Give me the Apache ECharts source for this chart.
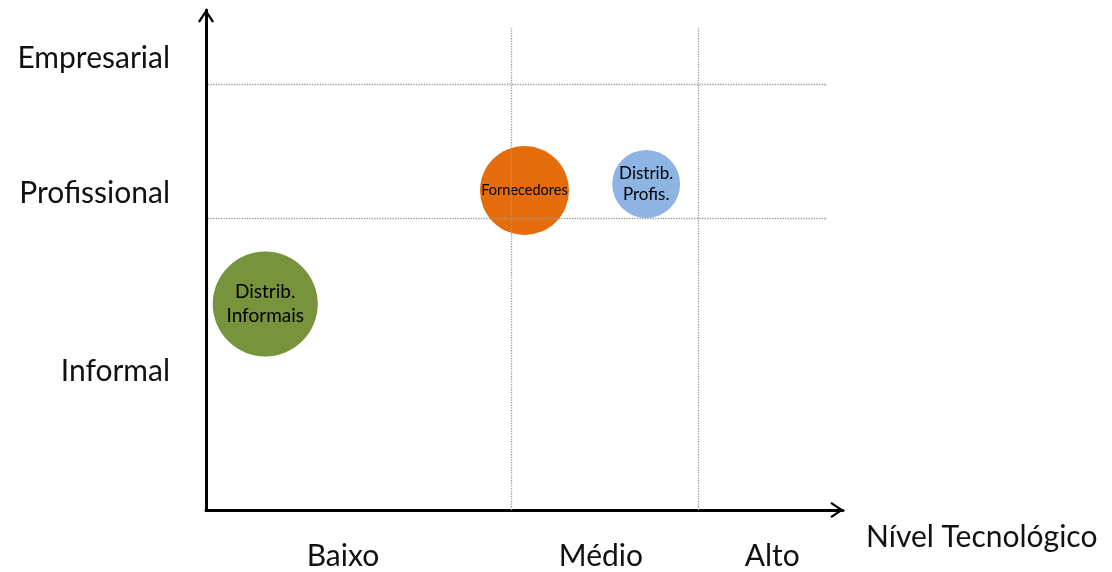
<!DOCTYPE html>
<html>
<head>
<meta charset="utf-8">
<script src="https://cdn.jsdelivr.net/npm/echarts@6/dist/echarts.min.js"></script>
<style>html,body{margin:0;padding:0;background:#fff}#c{width:1112px;height:572px}</style>
</head>
<body>
<div id="c"></div>
<script>
// ---- data ----
var bubbleNames = ['Fornecedores', 'Distrib.\nProfis.', 'Distrib.\nInformais'];
var bubbleX = [50.0, 69.1, 9.3];
var bubbleY = [63.9, 65.2, 41.2];
var bubbleSize = [89, 68, 105];
var bubbleColors = ['#E46C0A', '#8EB4E3', '#77933C'];
var bubbleFont = [14.5, 17, 19];

var xLevels = ['Baixo', 'Médio', 'Alto'];
var xLevelPos = [21.5, 62.0, 88.9];
var yLevels = ['Informal', 'Profissional', 'Empresarial'];
var yLevelPos = [27.8, 63.4, 90.4];

var xDividers = [47.9, 77.2];
var yDividers = [58.4, 85.2];
var xAxisName = 'Nível Tecnológico';

var FONT = 'Lato, "Open Sans", sans-serif';
var chevron = 'path://M8,0 L16,12 L14.2,13.3 L8,4 L1.8,13.3 L0,12 Z';

var lines = [];
xDividers.forEach(function (x) { lines.push([{ coord: [x, 0] }, { coord: [x, 96.4] }]); });
yDividers.forEach(function (y) { lines.push([{ coord: [0.3, y] }, { coord: [97.5, y] }]); });

var points = bubbleNames.map(function (n, i) {
  return {
    name: n,
    value: [bubbleX[i], bubbleY[i]],
    symbolSize: bubbleSize[i],
    itemStyle: { color: bubbleColors[i], opacity: 1 },
    label: { fontSize: bubbleFont[i], lineHeight: Math.round(bubbleFont[i] * 1.25) }
  };
});

var chart = echarts.init(document.getElementById('c'), null, { renderer: 'canvas' });
chart.setOption({
  animation: false,
  backgroundColor: '#ffffff',
  grid: { left: 206, right: 269, top: 10, bottom: 62, containLabel: false },
  xAxis: {
    type: 'value', min: 0, max: 100,
    splitLine: { show: false },
    axisTick: { show: false },
    axisLine: { show: true, lineStyle: { color: '#000', width: 3 }, symbol: ['none', chevron], symbolSize: [16, 14], symbolOffset: [0, -6] },
    axisLabel: {
      customValues: xLevelPos,
      formatter: function (v) { var i = xLevelPos.indexOf(v); return i >= 0 ? xLevels[i] : ''; },
      margin: 31, fontSize: 30, color: '#111', fontFamily: FONT
    }
  },
  yAxis: {
    type: 'value', min: 0, max: 100,
    splitLine: { show: false },
    axisTick: { show: false },
    axisLine: { show: true, lineStyle: { color: '#000', width: 3 }, symbol: ['none', chevron], symbolSize: [16, 14], symbolOffset: [0, -6] },
    axisLabel: {
      customValues: yLevelPos,
      formatter: function (v) { var i = yLevelPos.indexOf(v); return i >= 0 ? yLevels[i] : ''; },
      margin: 36, fontSize: 30, color: '#111', fontFamily: FONT
    }
  },
  graphic: [{
    type: 'text', left: 866, top: 522,
    style: { text: xAxisName, fontSize: 30, fill: '#111', fontFamily: FONT }
  }],
  series: [{
    type: 'scatter',
    data: points,
    z: 3,
    label: { show: true, position: 'inside', formatter: '{b}', color: '#000', fontFamily: FONT },
    emphasis: { disabled: true },
    markLine: {
      silent: true, symbol: ['none', 'none'], label: { show: false },
      lineStyle: { color: '#9a9a9a', type: 'dotted', width: 1.3 },
      data: lines
    }
  }]
});
</script>
</body>
</html>
